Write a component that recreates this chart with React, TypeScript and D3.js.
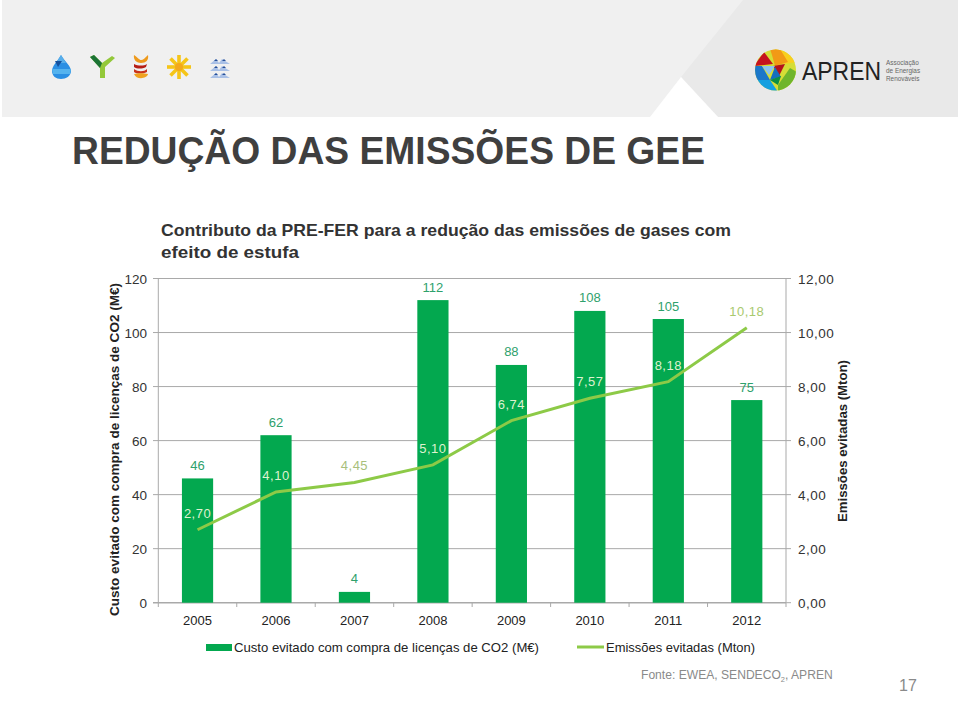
import React from "react";
import * as d3 from "d3";

const years = ["2005","2006","2007","2008","2009","2010","2011","2012"];
const custo = [46,62,4,112,88,108,105,75];
const emissoes = [2.70,4.10,4.45,5.10,6.74,7.57,8.18,10.18];
const leftTicks = [0,20,40,60,80,100,120];
const rightTicks = [0,2,4,6,8,10,12];
const lineLabelColors = ["#dff2cf","#dff2cf","#a8bf7c","#dff2cf","#dff2cf","#dff2cf","#dff2cf","#a8c96e"];

const GREEN = "#03a84f";
const LIGHT = "#8dca47";
const GRID = "#a9a9a9";
const LABEL = "#2ea16c";
const F = "Liberation Sans, Arial, sans-serif";
const W = 960, H = 719;

const xBand = d3.scaleBand<string>().domain(years).range([158.3, 786]);
const yL = d3.scaleLinear().domain([0,120]).range([602.7,278.5]);
const yR = d3.scaleLinear().domain([0,12]).range([602.7,278.5]);
const cx = (c: string) => xBand(c)! + xBand.bandwidth()/2;
const line = d3.line<number>().x((_,i)=>cx(years[i])).y(d=>yR(d));
const comma = (v: number) => d3.format(".2f")(v).replace(".",",");

function Icons(){ return <g>
  <path d="M61 55 C57 62 52 66 52 71 C52 76 56 79 61 79 C66 79 71 76 71 71 C71 66 65 62 61 55Z" fill="#2b8fe3"/>
  <path d="M61 55 L66 63 L56 63Z" fill="#58aeea"/>
  <path d="M55 61 L62 61 L58 67Z" fill="#14509e"/>
  <path d="M52 69 L71 69 L70 74 L53 74Z" fill="#55b3ee"/>
  <path d="M90 57 L94 55 L102 63 L112 56 L115 58 L105 67 L105 78 L100 78 L100 68Z" fill="#93c83a"/>
  <path d="M90 57 L94 55 L102 63 L100 68Z" fill="#1b7335"/>
  <path d="M134 55 C138 58 140 60 141 60 C143 60 145 58 148 55 C149 60 146 63 141 63 C137 63 133 60 134 55Z" fill="#ee9a1c"/>
  <path d="M134 64 C138 66 144 66 147 64 L146 67 C142 69 137 69 134 67Z" fill="#b51e16"/>
  <path d="M134 69 C138 72 144 72 147 69 L147 72 C142 74 137 74 134 72Z" fill="#c9331a"/>
  <path d="M134 74 C138 73 144 73 148 74 C147 79 136 80 134 74Z" fill="#f0a21f"/>
  <g stroke="#f5c518" strokeWidth={3.6}>
    {[0,45,90,135].map(a=>{const c=Math.cos(a*Math.PI/180), s=Math.sin(a*Math.PI/180);
      return <line key={a} x1={179-12*c} y1={67-12*s} x2={179+12*c} y2={67+12*s}/>;})}
  </g>
  <circle cx={179} cy={67} r={4} fill="#f3a81c"/>
  {[58,65,72].map(v=><g key={v}>
    <path d={`M210 ${v+6} L216 ${v+1} L219 ${v+5} L222 ${v+1} L230 ${v+6}Z`} fill="#a9c0e6"/>
    <path d={`M214 ${v+3} L216 ${v+1} L218 ${v+3}Z M222 ${v+3} L224 ${v+1} L226 ${v+3}Z`} fill="#27509a"/>
  </g>)}
</g>; }

function Logo(){ return <g>
  <clipPath id="apr"><circle cx={775.5} cy={70} r={20.5}/></clipPath>
  <g clipPath="url(#apr)">
    <rect x={754} y={49} width={43} height={43} fill="#d5dd36"/>
    <path d="M754 49 H797 V62 L784 64 L775 49Z" fill="#f8cf1e"/>
    <path d="M770 49 H780 L788 62 L775 66 L772 55Z" fill="#f29a16"/>
    <path d="M754 66 L764 52 L773 64Z" fill="#c6131f"/>
    <path d="M773 66 L785 64 L779 76Z" fill="#b5121c"/>
    <path d="M754 66 L762 66 L770 80 L760 80 L754 80Z" fill="#1b77c9"/>
    <path d="M762 66 L775 66 L769 75Z" fill="#8cc3f1"/>
    <path d="M770 80 L775 67 L781 77Z" fill="#156fbe"/>
    <path d="M758 80 L770 80 L778 92 L758 92Z" fill="#14a0e0"/>
    <path d="M770 80 L781 76 L778 85Z" fill="#0b8f45"/>
    <path d="M778 92 L778 85 L790 68 L797 72 L797 92Z" fill="#6fb52c"/>
  </g>
  <text x={802} y={80} fontSize={26.5} fill="#222" textLength={79} lengthAdjust="spacingAndGlyphs">APREN</text>
  <g fontSize={6.4} fill="#666">
    <text x={886} y={65}>Associação</text>
    <text x={886} y={73}>de Energias</text>
    <text x={886} y={81}>Renováveis</text>
  </g>
</g>; }

export default function App(){
  return <svg width={W} height={H} viewBox={`0 0 ${W} ${H}`} style={{position:"absolute",left:0,top:0,background:"#fff",fontFamily:F}}>
    <rect x={2} y={0} width={956} height={117} fill="#f0f0f0"/>
    <path d="M743 0 L958 0 L958 117 L718 117 L681 77Z" fill="#e9e9e9"/>
    <path d="M650 117 L681 77 L718 117Z" fill="#fff"/>
    <Icons/>
    <Logo/>

    <text x={72} y={164} fontSize={38} fontWeight={700} fill="#3f3f3f" textLength={633} lengthAdjust="spacingAndGlyphs">REDUÇÃO DAS EMISSÕES DE GEE</text>
    <g fontSize={16.5} fontWeight={700} fill="#333">
      <text x={161} y={236} textLength={570} lengthAdjust="spacingAndGlyphs">Contributo da PRE-FER para a redução das emissões de gases com</text>
      <text x={161} y={258} textLength={138} lengthAdjust="spacingAndGlyphs">efeito de estufa</text>
    </g>

    {leftTicks.map(t=><g key={t}>
      <line x1={153} x2={786} y1={yL(t)} y2={yL(t)} stroke={GRID} strokeWidth={t===0?1.4:1}/>
      <text x={147} y={yL(t)+5} textAnchor="end" fontSize={13.5} fill="#333">{t}</text>
    </g>)}
    <line x1={158.3} x2={158.3} y1={yL(120)} y2={yL(0)} stroke={GRID}/>
    <line x1={786} x2={786} y1={yL(120)} y2={yL(0)} stroke={GRID}/>
    {rightTicks.map(t=><g key={t}>
      <line x1={786} x2={791} y1={yR(t)} y2={yR(t)} stroke={GRID}/>
      <text x={798} y={yR(t)+5} fontSize={13.5} letterSpacing={0.5} fill="#333">{comma(t)}</text>
    </g>)}

    {years.map((c,i)=><rect key={c} x={cx(c)-15.6} width={31.2} y={yL(custo[i])} height={yL(0)-yL(custo[i])} fill={GREEN}/>)}
    {d3.range(0,9).map(i=><line key={i} x1={158.3+i*xBand.step()} x2={158.3+i*xBand.step()} y1={603} y2={607} stroke={GRID}/>)}
    {years.map(c=><text key={c} x={cx(c)} y={624.5} textAnchor="middle" fontSize={13} fill="#222">{c}</text>)}

    <path d={line(emissoes)!} fill="none" stroke={LIGHT} strokeWidth={3}/>
    {years.map((c,i)=><text key={c} x={cx(c)} y={yL(custo[i])-8.5} textAnchor="middle" fontSize={13} fill={LABEL}>{custo[i]}</text>)}
    {years.map((c,i)=><text key={c} x={cx(c)} y={yR(emissoes[i])-12} textAnchor="middle" fontSize={13} letterSpacing={0.5} fill={lineLabelColors[i]}>{comma(emissoes[i])}</text>)}

    <text transform="translate(119,449.5) rotate(-90)" textAnchor="middle" fontSize={13.5} fontWeight={700} fill="#222" textLength={333} lengthAdjust="spacingAndGlyphs">Custo evitado com compra de licenças de CO2 (M€)</text>
    <text transform="translate(847,441) rotate(-90)" textAnchor="middle" fontSize={13.5} fontWeight={700} fill="#222" textLength={162} lengthAdjust="spacingAndGlyphs">Emissões evitadas (Mton)</text>

    <rect x={206} y={644} width={26} height={7} fill={GREEN}/>
    <text x={234} y={652} fontSize={13.5} fill="#222" textLength={305} lengthAdjust="spacingAndGlyphs">Custo evitado com compra de licenças de CO2 (M€)</text>
    <line x1={577} x2={604} y1={647} y2={647} stroke={LIGHT} strokeWidth={3}/>
    <text x={606} y={652} fontSize={13.5} fill="#222" textLength={149} lengthAdjust="spacingAndGlyphs">Emissões evitadas (Mton)</text>
    <text transform="translate(641,679) scale(0.932,1)" fontSize={13} fill="#8a8a8a">Fonte: EWEA, SENDECO<tspan fontSize={8} dy={3}>2</tspan><tspan dy={-3}>, APREN</tspan></text>
    <text x={899} y={691} fontSize={16} fill="#8a8a8a">17</text>
  </svg>;
}
